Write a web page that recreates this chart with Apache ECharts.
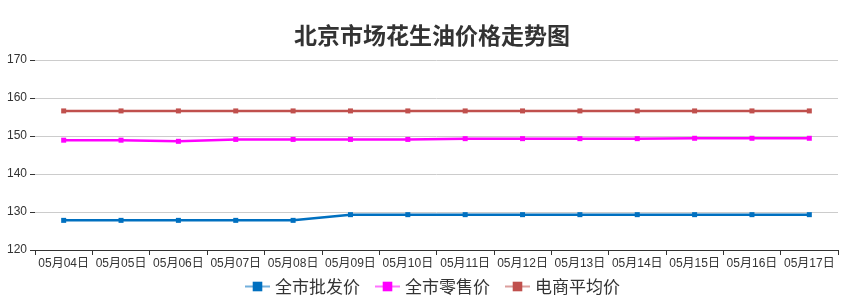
<!DOCTYPE html>
<html><head><meta charset="utf-8">
<script src="https://cdn.jsdelivr.net/npm/echarts@6/dist/echarts.min.js"></script>
<style>html,body{margin:0;padding:0;background:#fff}#c{width:864px;height:300px}</style>
</head><body><div id="c"></div>
<script>
var categories = ['05月04日','05月05日','05月06日','05月07日','05月08日','05月09日','05月10日','05月11日','05月12日','05月13日','05月14日','05月15日','05月16日','05月17日'];
var wholesale = [127.8,127.8,127.8,127.8,127.8,129.3,129.3,129.3,129.3,129.3,129.3,129.3,129.3,129.3];
var retail = [148.9,148.9,148.6,149.1,149.1,149.1,149.1,149.3,149.3,149.3,149.3,149.4,149.4,149.4];
var ecommerce = [156.6,156.6,156.6,156.6,156.6,156.6,156.6,156.6,156.6,156.6,156.6,156.6,156.6,156.6];
var yTicks = {min:120, max:170, interval:10};

var font = '"Liberation Sans", Arial, "Noto Sans CJK SC", sans-serif';
var chart = echarts.init(document.getElementById('c'));
function mk(name, data, color){
  return {name:name, type:'line', data:data, symbol:'rect', symbolSize:5,
    itemStyle:{color:color}, lineStyle:{color:color, width:2.5}, animation:false};
}
chart.setOption({
  animation:false,
  textStyle:{fontFamily:font},
  title:{text:'北京市场花生油价格走势图', left:'center', top:19,
    textStyle:{fontSize:23, fontWeight:'bold', color:'#333', fontFamily:'"Noto Sans CJK SC", sans-serif'}},
  legend:{bottom:0, left:'center', itemWidth:25, itemHeight:12, itemGap:14,
    lineStyle:{opacity:0.55},
    textStyle:{fontSize:17, color:'#333', fontFamily:'"Noto Sans CJK SC", sans-serif'},
    data:['全市批发价','全市零售价','电商平均价']},
  grid:{left:35, right:26, top:60, bottom:50, containLabel:false},
  xAxis:{type:'category', data:categories, boundaryGap:true,
    axisLine:{lineStyle:{color:'#333'}}, axisTick:{show:true, lineStyle:{color:'#333'}},
    axisLabel:{color:'#333', fontSize:12, interval:0, fontFamily:font}},
  yAxis:{type:'value', min:yTicks.min, max:yTicks.max, interval:yTicks.interval,
    axisLine:{show:false}, axisTick:{show:true, length:5, lineStyle:{color:'#333'}},
    axisLabel:{color:'#333', fontSize:12, margin:8, fontFamily:font},
    splitLine:{lineStyle:{color:'#ccc'}}},
  series:[mk('全市批发价', wholesale, '#0070C0'), mk('全市零售价', retail, '#FF00FF'), mk('电商平均价', ecommerce, '#C0504D')]
});
</script></body></html>
